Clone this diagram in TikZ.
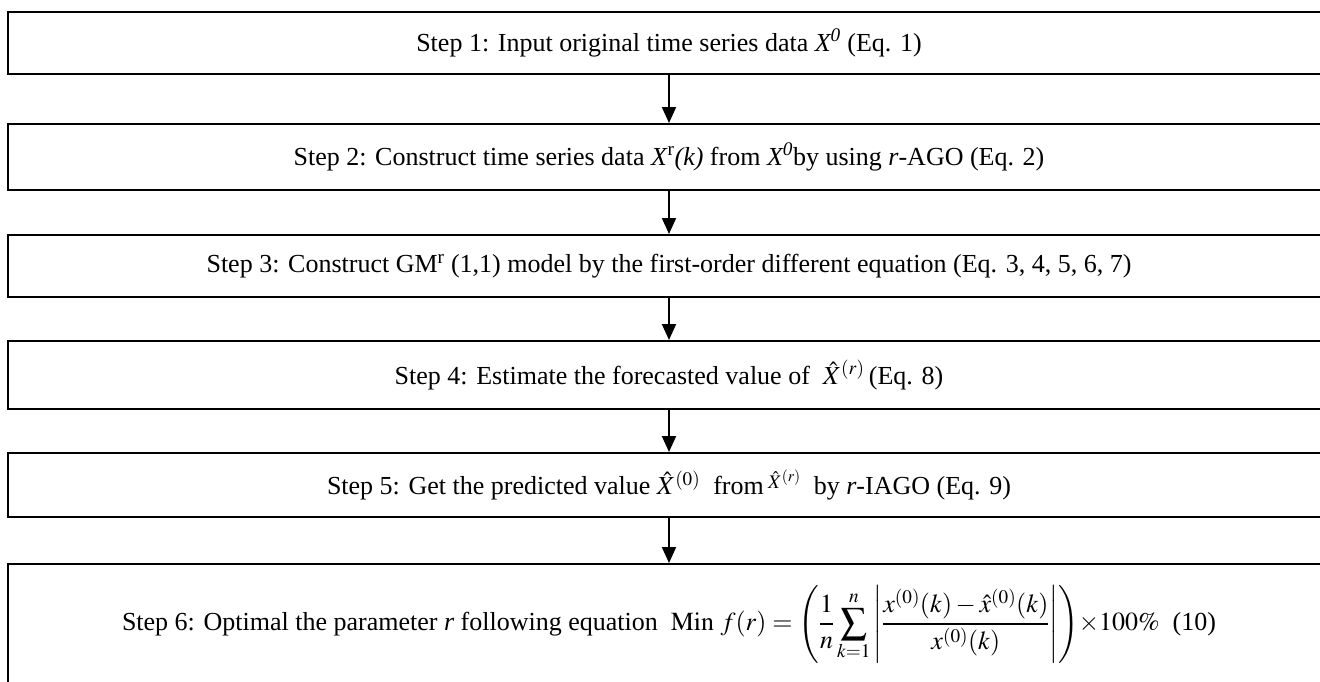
\documentclass[tikz,border=0pt]{standalone}
\usepackage{mathptmx}
\usepackage{fontspec}
\setmainfont{Liberation Serif}
\usetikzlibrary{arrows.meta}
\begin{document}
\begin{tikzpicture}[x=1pt,y=-1pt,
  box/.style={draw,line width=2pt,minimum width=1322pt,inner sep=0pt,align=center,font=\fontsize{26}{30}\selectfont},
  arr/.style={line width=2pt,-{Triangle[width=14pt,length=16pt]}}]
\useasboundingbox (0,0) rectangle (1320,681);
\clip (0,0) rectangle (1320,681);
\node[box,minimum height=62pt] (b1) at (669,43)
  {Step 1: Input original time series data \textit{X\textsuperscript{0}} (Eq. 1)};
\node[box,minimum height=66pt] (b2) at (669,157)
  {Step 2: Construct time series data \textit{X}\textsuperscript{r}\textit{(k)} from \textit{X\textsuperscript{0}}by using \textit{r}-AGO (Eq. 2)};
\node[box,minimum height=62pt] (b3) at (669,266)
  {Step 3: Construct GM\textsuperscript{r} (1,1) model by the first-order different equation (Eq. 3, 4, 5, 6, 7)};
\node[box,minimum height=68pt] (b4) at (669,375)
  {Step 4: Estimate the forecasted value of\ \ $\hat{X}^{(r)}$\,(Eq. 8)};
\node[box,minimum height=64pt] (b5) at (669,485)
  {Step 5: Get the predicted value $\hat{X}^{(0)}$\ \ from\,\raisebox{6pt}{$\scriptstyle\hat{X}^{(r)}$}\ \ by \textit{r}-IAGO (Eq. 9)};
\node[box,minimum height=120pt] (b6) at (669,624)
  {Step 6: Optimal the parameter \textit{r} following equation\ \ $\displaystyle\mathrm{Min}\ f(r)=\Bigg(\frac{1}{n}\sum_{k=1}^{n}\Bigg|\frac{x^{(0)}(k)-\hat{x}^{(0)}(k)}{x^{(0)}(k)}\Bigg|\Bigg)\mathord{\times}100\%$\ \ (10)};
\draw[arr] (b1) -- (b2);
\draw[arr] (b2) -- (b3);
\draw[arr] (b3) -- (b4);
\draw[arr] (b4) -- (b5);
\draw[arr] (b5) -- (b6);
\end{tikzpicture}
\end{document}
